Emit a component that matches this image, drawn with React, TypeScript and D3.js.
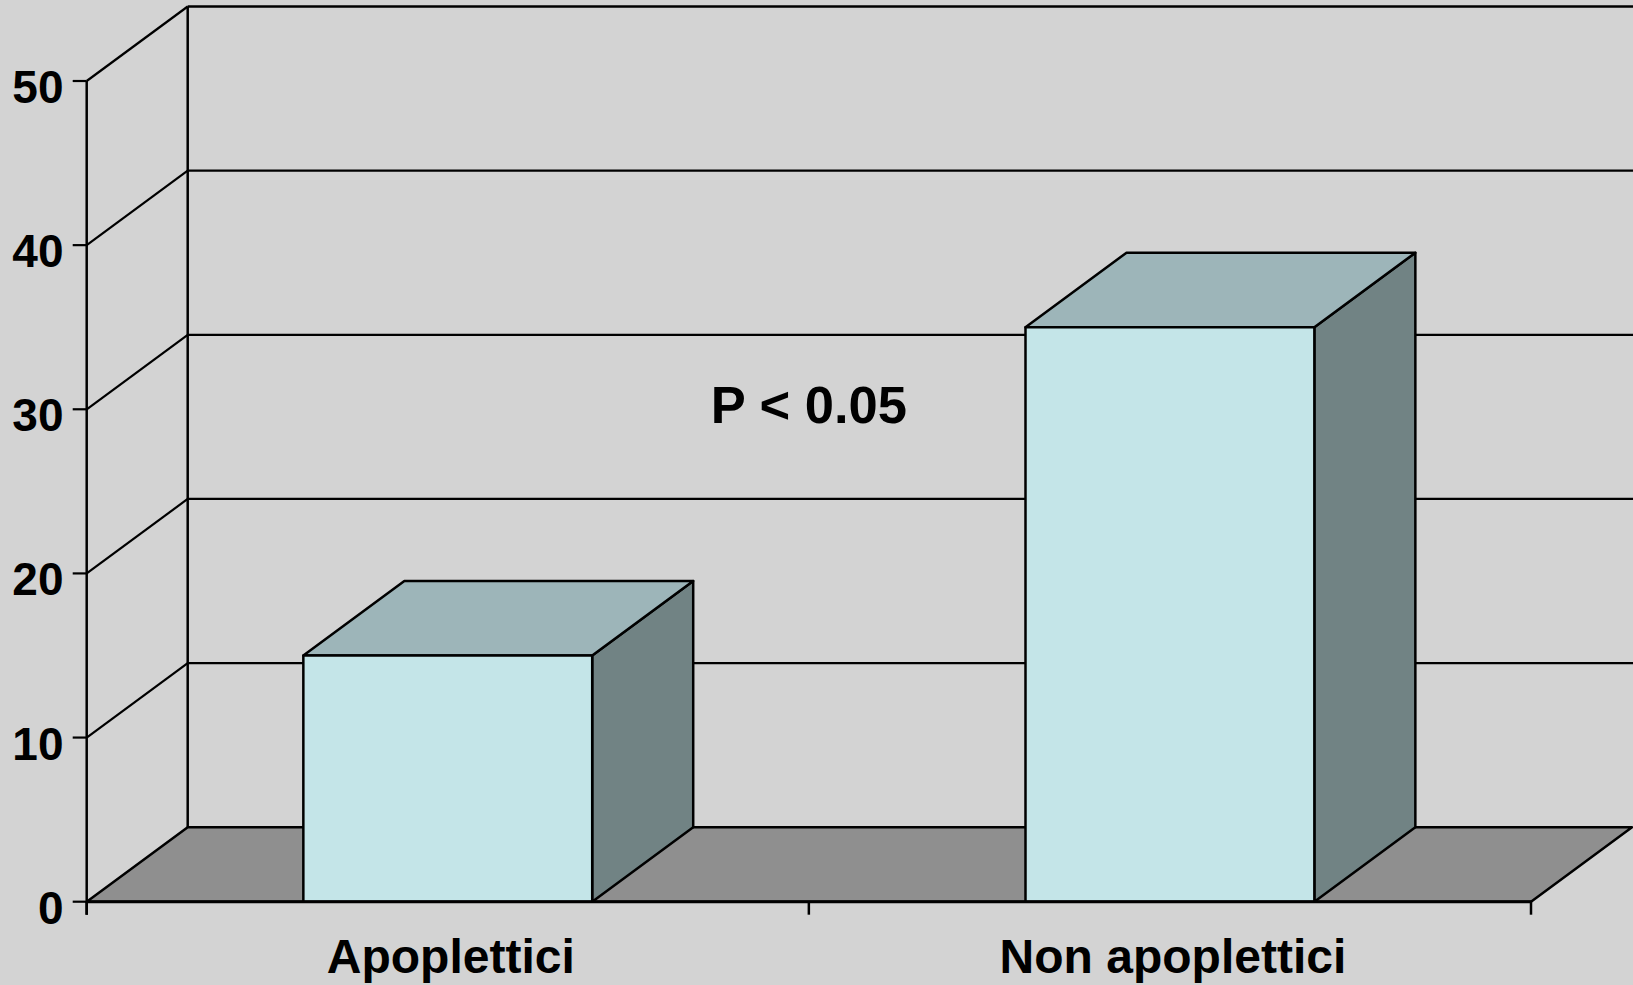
import React from "react";
import * as d3 from "d3";

const categories = ["Apoplettici", "Non apoplettici"];
const values = [15, 35];
const yTicks = [0, 10, 20, 30, 40, 50];
const annotation = "P < 0.05";

const W = 1633;
const H = 985;
const x0 = 86.7;
const x1 = 1531;
const DX = 101;
const DY = 74.5;
const FONT = "'Liberation Sans', Arial, sans-serif";

export default function App() {
  const y = d3.scaleLinear().domain([0, 50]).range([901.7, 81]);
  const xb = d3.scaleBand().domain(categories).range([x0, x1]).paddingInner(0.6).paddingOuter(0.3);
  const bg = "#d3d3d3";
  const pts = (a: number[][]) => a.map((p) => p.join(",")).join(" ");
  const yb = y(0);

  return (
    <svg width={W} height={H} style={{ position: "absolute", left: 0, top: 0, display: "block" }}>
      <rect x={0} y={0} width={W} height={H} fill={bg} />
      {/* floor */}
      <polygon
        points={pts([[x0, yb], [x1, yb], [x1 + DX, yb - DY], [x0 + DX, yb - DY]])}
        fill="#8f8f8f"
        stroke="#000"
        strokeWidth={2.5}
        strokeLinejoin="round"
      />
      {/* back wall gridlines & side wall diagonals */}
      {yTicks.map((t) => (
        <g key={t}>
          {t > 0 && (
            <line x1={x0 + DX} x2={W + 5} y1={y(t) - DY} y2={y(t) - DY} stroke="#000" strokeWidth={t === 50 ? 2.5 : 2.2} />
          )}
          {t > 0 && (
            <line x1={x0} x2={x0 + DX} y1={y(t)} y2={y(t) - DY} stroke="#000" strokeWidth={2.2} />
          )}
          <line x1={x0 - 14} x2={x0} y1={y(t)} y2={y(t)} stroke="#000" strokeWidth={2.2} />
          <text
            x={63.5}
            y={y(t) + 22}
            textAnchor="end"
            fontFamily={FONT}
            fontWeight="bold"
            fontSize={46}
            fill="#000"
          >
            {t}
          </text>
        </g>
      ))}
      {/* back wall vertical edge */}
      <line x1={x0 + DX} x2={x0 + DX} y1={y(50) - DY} y2={yb - DY} stroke="#000" strokeWidth={2.5} />
      {/* front left axis */}
      <line x1={x0} x2={x0} y1={y(50)} y2={yb + 13} stroke="#000" strokeWidth={2.5} />
      {/* category ticks */}
      {[x0, (x0 + x1) / 2, x1].map((xx, i) => (
        <line key={i} x1={xx} x2={xx} y1={yb} y2={yb + 13} stroke="#000" strokeWidth={2.5} />
      ))}
      {/* bars */}
      {categories.map((c, i) => {
        const bx = xb(c)!;
        const bw = xb.bandwidth();
        const top = y(values[i]);
        return (
          <g key={c} stroke="#000" strokeWidth={2.5} strokeLinejoin="round">
            <polygon
              points={pts([[bx + bw, top], [bx + bw + DX, top - DY], [bx + bw + DX, yb - DY], [bx + bw, yb]])}
              fill="#718384"
            />
            <polygon
              points={pts([[bx, top], [bx + DX, top - DY], [bx + bw + DX, top - DY], [bx + bw, top]])}
              fill="#9db5b9"
            />
            <rect x={bx} y={top} width={bw} height={yb - top} fill="#c4e5e8" />
          </g>
        );
      })}
      {/* front floor edge */}
      <line x1={x0} x2={x1} y1={yb} y2={yb} stroke="#000" strokeWidth={3} />
      {/* category labels */}
      {categories.map((c) => (
        <text
          key={c}
          x={xb(c)! + xb.bandwidth() / 2 + 3}
          y={973}
          textAnchor="middle"
          fontFamily={FONT}
          fontWeight="bold"
          fontSize={48}
          fill="#000"
        >
          {c}
        </text>
      ))}
      <text
        x={(x0 + x1) / 2}
        y={423}
        textAnchor="middle"
        fontFamily={FONT}
        fontWeight="bold"
        fontSize={52.5}
        fill="#000"
      >
        {annotation}
      </text>
    </svg>
  );
}
